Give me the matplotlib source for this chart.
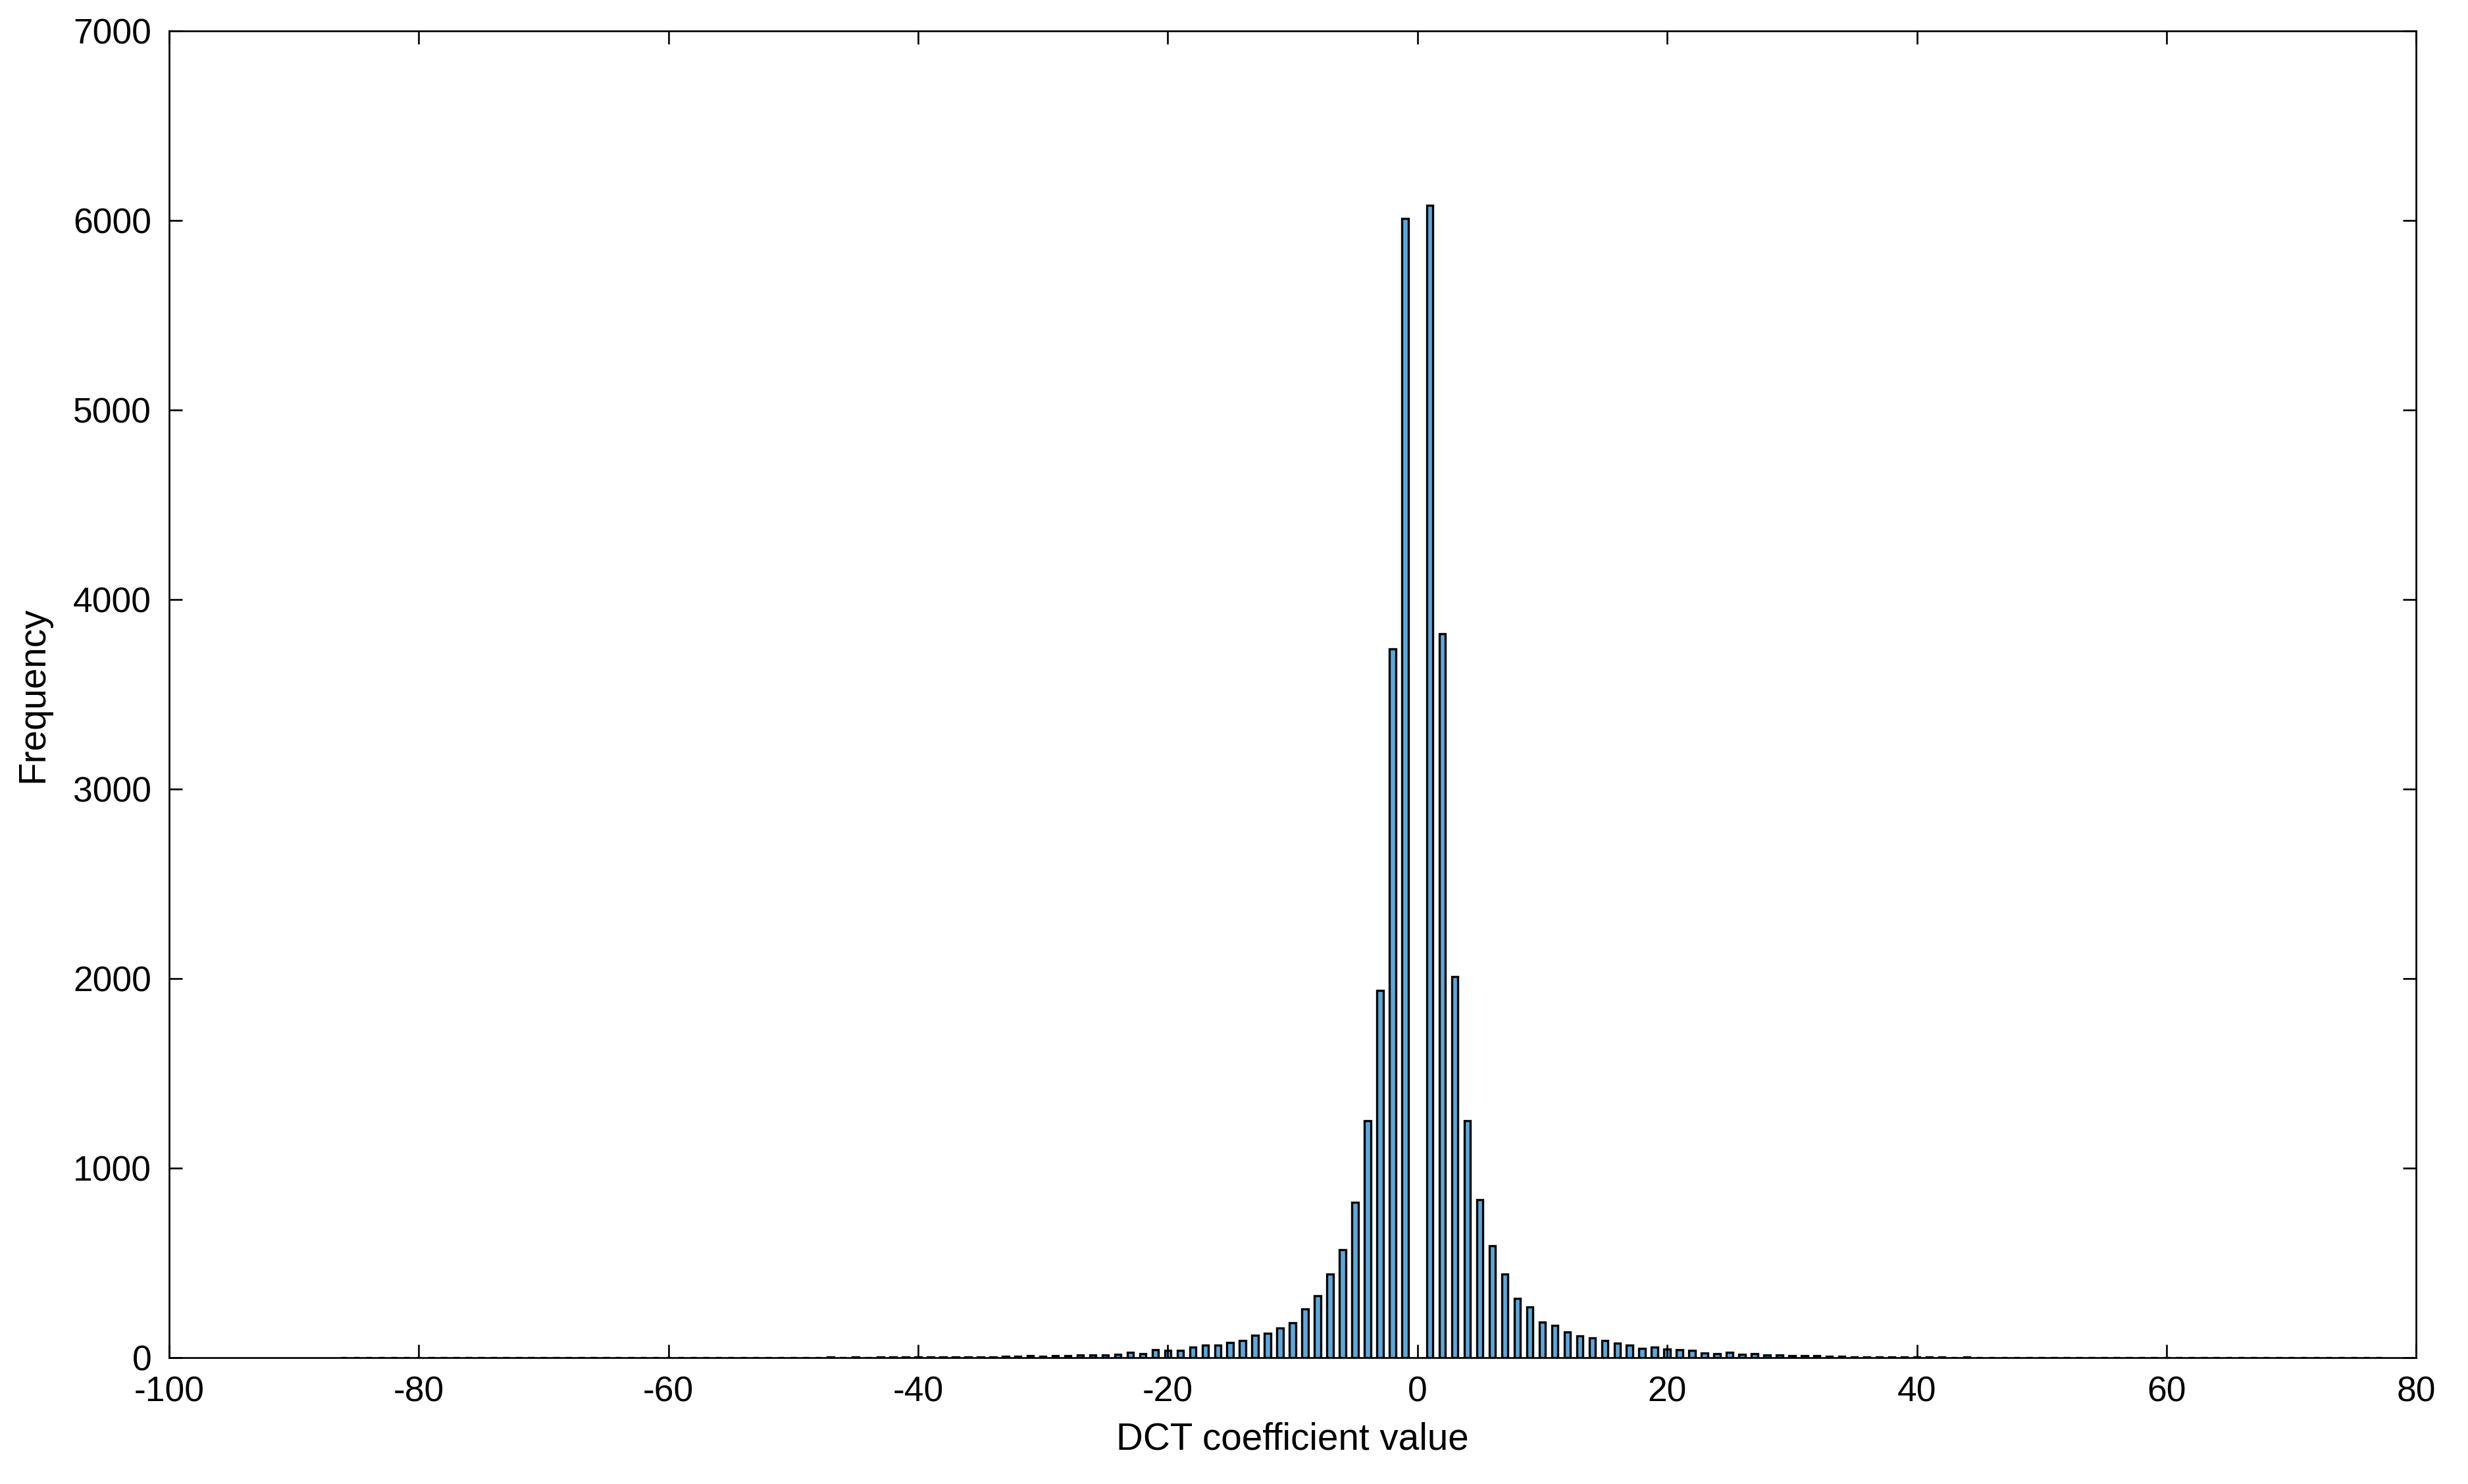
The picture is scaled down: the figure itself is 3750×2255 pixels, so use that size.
import matplotlib.pyplot as plt
import numpy as np

plt.rcParams['font.family'] = ['Liberation Sans', 'DejaVu Sans']
plt.rcParams['axes.unicode_minus'] = False

# DCT coefficient histogram (counts per integer value)
neg_values = list(range(-1, -87, -1))
neg_counts = [6010, 3740, 1940, 1250, 820, 571, 441, 328, 258, 184,
              157, 129, 118, 93, 82, 68, 68, 56, 41, 38,
              44, 21, 29, 17, 16, 14, 15, 12, 11, 9,
              10, 8, 7, 6, 5, 6, 4, 4, 5, 3,
              4, 3, 3, 2, 3, 2, 3, 2, 2, 2,
              1, 2, 1, 2, 1, 0, 1, 1, 2, 0,
              1, 1, 0, 1, 0, 1, 1, 0, 1, 1,
              0, 1, 1, 0, 1, 1, 0, 1, 1, 0,
              1, 0, 1, 0, 1, 1]
pos_values = list(range(1, 78))
pos_counts = [6080, 3820, 2010, 1250, 836, 593, 441, 312, 268, 188,
              171, 138, 114, 106, 91, 79, 68, 50, 56, 47,
              42, 38, 27, 21, 29, 17, 23, 15, 14, 12,
              12, 10, 8, 7, 6, 5, 5, 4, 6, 3,
              4, 3, 2, 3, 2, 2, 1, 2, 1, 1,
              2, 1, 2, 1, 1, 0, 2, 1, 0, 1,
              2, 1, 0, 1, 1, 0, 1, 1, 1, 1,
              0, 1, 0, 1, 0, 0, 1]

values = np.array(neg_values[::-1] + pos_values)
counts = np.array(neg_counts[::-1] + pos_counts)

fig, ax = plt.subplots(figsize=(15.625, 9.396), dpi=240)
fig.subplots_adjust(left=0.0685, right=0.979, bottom=0.085, top=0.979)

ax.bar(values, counts, width=0.5, color='#5BA8DB', edgecolor='black', linewidth=1.0)

ax.set_xlim(-100, 80)
ax.set_ylim(0, 7000)
ax.set_xticks(range(-100, 81, 20))
ax.set_yticks(range(0, 7001, 1000))
ax.tick_params(direction='in', top=True, right=True, labelsize=16, length=6, width=0.8)
ax.tick_params(axis='x', pad=8)
ax.tick_params(axis='y', pad=8)
for s in ax.spines.values():
    s.set_linewidth(0.8)

ax.set_xlabel('DCT coefficient value', fontsize=17, labelpad=6)
ax.set_ylabel('Frequency', fontsize=17, labelpad=10)

fig.savefig('out.png')
